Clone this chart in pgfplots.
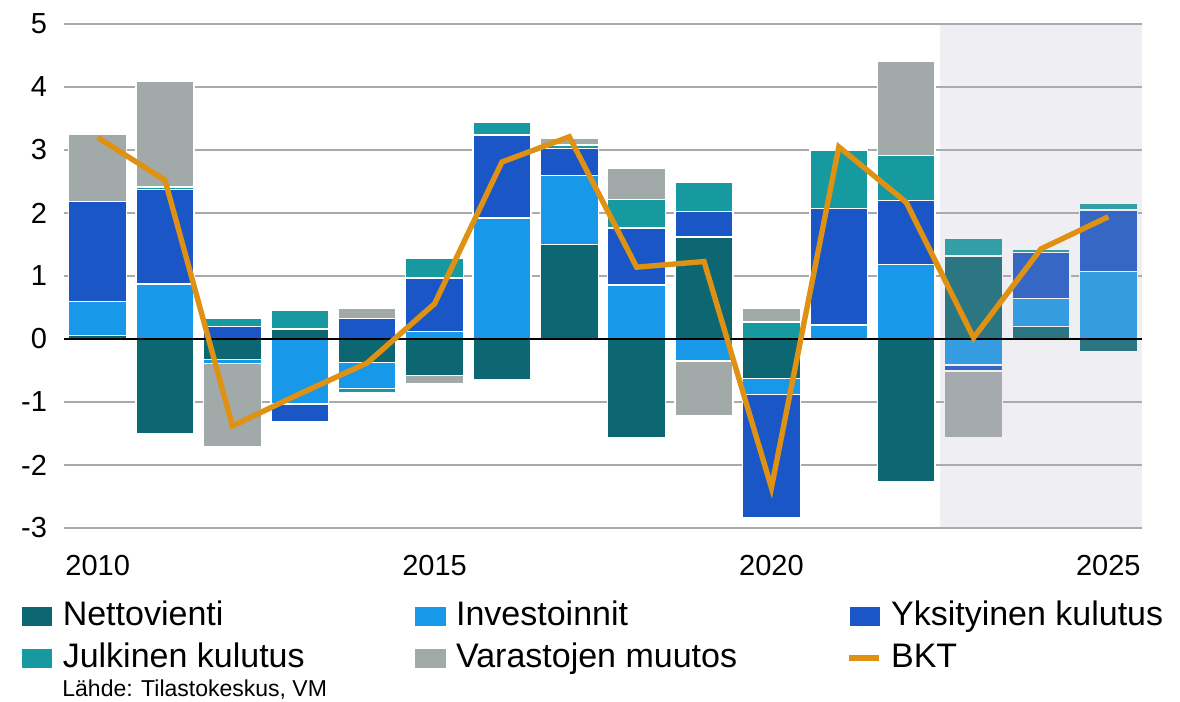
\documentclass[border=0pt]{standalone}
\usepackage{pgfplots}
\pgfplotsset{compat=1.18}
\usepackage{pgfplotstable}
\usepackage{fontspec}
\setmainfont{Liberation Sans}

\definecolor{cNetto}{RGB}{12,103,115}
\definecolor{cInv}{RGB}{24,152,232}
\definecolor{cYks}{RGB}{26,86,198}
\definecolor{cJulk}{RGB}{22,154,160}
\definecolor{cVar}{RGB}{162,169,169}
\definecolor{cBKT}{RGB}{222,145,18}
\definecolor{cGrid}{RGB}{170,170,170}
\definecolor{cShade}{RGB}{175,175,195}

\pgfplotstableread{
year netto inv yks julk var
2010 0.06 0.54 1.58 0 1.07
2011 0 0.87 1.50 0.04 1.68
2012 0 0 0.20 0.13 0
2013 0.16 0 0 0.29 0
2014 0 0 0.33 0 0.15
2015 0 0.12 0.85 0.31 0
2016 0 1.92 1.32 0.20 0
2017 1.50 1.10 0.42 0.06 0.10
2018 0 0.86 0.90 0.45 0.50
2019 1.62 0 0.40 0.46 0
2020 0 0 0 0.27 0.22
2021 0 0.22 1.85 0.93 0
2022 0 1.18 1.02 0.71 1.50
2023 1.32 0 0 0.28 0
2024 0.20 0.44 0.73 0.05 0
2025 0 1.07 0.98 0.10 0
}\postab

\pgfplotstableread{
year netto inv yks julk var
2010 0 0 0 0 0
2011 -1.50 0 0 0 0
2012 -0.33 -0.06 0 0 -1.32
2013 0 -1.03 -0.28 0 0
2014 -0.37 -0.42 0 -0.06 0
2015 -0.58 0 0 0 -0.13
2016 -0.65 0 0 0 0
2017 0 0 0 0 0
2018 -1.57 0 0 0 0
2019 0 -0.35 0 0 -0.87
2020 -0.63 -0.25 -1.95 0 0
2021 0 0 0 0 0
2022 -2.27 0 0 0 0
2023 0 -0.41 -0.10 0 -1.05
2024 0 0 0 0 0
2025 -0.20 0 0 0 0
}\negtab

\pgfplotstableread{
year bkt
2010 3.20
2011 2.52
2012 -1.38
2013 -0.87
2014 -0.38
2015 0.56
2016 2.81
2017 3.21
2018 1.14
2019 1.23
2020 -2.36
2021 3.05
2022 2.17
2023 0.02
2024 1.43
2025 1.94
}\bkttab

\pgfplotsset{
  base/.style={scale only axis, width=539pt, height=252pt,
    xmin=2009.5, xmax=2025.5, ymin=-3, ymax=5, at={(0,0)}, anchor=south west},
  barleg/.style={legend image code/.code={\fill[##1] (0pt,-5pt) rectangle (16pt,5pt);}},
  lineleg/.style={legend image code/.code={\draw[##1] (0pt,0pt) -- (15pt,0pt);}},
  bs/.style={fill=#1, draw=white, line width=0.7pt},
}

\begin{document}
\begin{tikzpicture}
\begin{axis}[base, name=A,
  ybar stacked, bar width=0.86, stacked ignores zero,
  axis line style={draw=none}, major tick style={draw=none},
  ymajorgrids, grid style={cGrid, line width=0.9pt},
  ytick={-3,-2,-1,0,1,2,3,4,5},
  yticklabels={-3,-2,-1,0,1,2,3,4,5},
  xtick={2010,2015,2020,2025},
  xticklabels={2010,2015,2020,2025},
  ticklabel style={font=\fontsize{14.5}{16}\selectfont},
  xticklabel style={yshift=-10pt},
  yticklabel style={xshift=-5pt},
  /pgf/number format/assume math mode=true,
  barleg,
  legend columns=3,
  legend cell align=left,
  legend style={draw=none, fill=none, at={(axis description cs:0,0)}, anchor=north west,
    xshift=-22pt, yshift=-35pt, font=\fontsize{17}{20}\selectfont,
    inner sep=0pt, row sep=3pt,
    nodes={inner sep=1pt, text height=12.5pt, text depth=3.5pt},
    /tikz/every odd column/.append style={column sep=3.5pt},
    /tikz/every even column/.append style={column sep=53.5pt}},
]
\addplot[bs=cNetto] table[x=year, y=netto] {\postab};
\addlegendentry{Nettovienti}
\addplot[bs=cInv] table[x=year, y=inv] {\postab};
\addlegendentry{Investoinnit}
\addplot[bs=cYks] table[x=year, y=yks] {\postab};
\addlegendentry{Yksityinen kulutus}
\addplot[bs=cJulk] table[x=year, y=julk] {\postab};
\addlegendentry{Julkinen kulutus}
\addplot[bs=cVar] table[x=year, y=var] {\postab};
\addlegendentry{Varastojen muutos}
\addlegendimage{lineleg, cBKT, line width=3pt}
\addlegendentry{BKT}
\end{axis}

\begin{axis}[base, hide axis, ybar stacked, bar width=0.86, stacked ignores zero]
\addplot[bs=cNetto] table[x=year, y=netto] {\negtab};
\addplot[bs=cInv] table[x=year, y=inv] {\negtab};
\addplot[bs=cYks] table[x=year, y=yks] {\negtab};
\addplot[bs=cJulk] table[x=year, y=julk] {\negtab};
\addplot[bs=cVar] table[x=year, y=var] {\negtab};
\end{axis}

\begin{axis}[base, hide axis]
\fill[cShade, fill opacity=0.2] (axis cs:2022.5,-3) rectangle (axis cs:2025.5,5);
\draw[black, line width=0.8pt] (axis cs:2009.5,0) -- (axis cs:2025.5,0);
\addplot[cBKT, line width=2.7pt, no markers, sharp plot] table[x=year, y=bkt] {\bkttab};
\end{axis}

\node[anchor=west, font=\fontsize{11.5}{13}\selectfont, inner sep=0pt] at ([xshift=-1pt, yshift=-81pt]A.south west) {Lähde: Tilastokeskus, VM};

\pgfresetboundingbox
\path (-32pt,-87pt) rectangle (558pt,264pt);
\end{tikzpicture}
\end{document}
